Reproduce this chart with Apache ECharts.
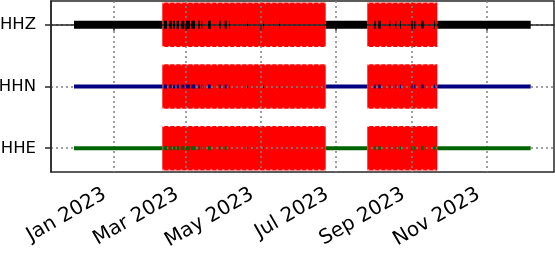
<!DOCTYPE html>
<html>
<head>
<meta charset="utf-8">
<script src="https://cdn.jsdelivr.net/npm/echarts@6/dist/echarts.min.js"></script>
<style>
html,body{margin:0;padding:0;background:#fff;}
#chart{width:555px;height:253px;}
</style>
</head>
<body>
<div id="chart"></div>
<script>
// Channels (top to bottom)
var channels = ['HHZ', 'HHN', 'HHE'];
var channelColors = ['#000000', '#000080', '#006400'];
var channelWidths = [8, 4, 4];

// Data availability segments [start, end]
var segments = [
  ['2022-11-30 00:40', '2023-02-09 20:40'],
  ['2023-02-11 05:45', '2023-02-13 16:20'],
  ['2023-02-15 07:30', '2023-02-17 12:00'],
  ['2023-02-18 13:30', '2023-02-20 04:30'],
  ['2023-02-21 13:40', '2023-02-23 10:50'],
  ['2023-02-25 01:40', '2023-02-27 18:10'],
  ['2023-02-28 21:40', '2023-03-04 09:20'],
  ['2023-03-05 05:00', '2023-03-08 11:00'],
  ['2023-03-11 03:35', '2023-03-12 12:45'],
  ['2023-03-13 14:10', '2023-03-14 09:40'],
  ['2023-03-19 01:00', '2023-03-21 05:30'],
  ['2023-03-27 23:30', '2023-03-29 08:50'],
  ['2023-04-01 14:50', '2023-04-03 06:00'],
  ['2023-04-05 02:50', '2023-04-05 22:20'],
  ['2023-04-19 18:15', '2023-04-20 13:40'],
  ['2023-05-02 18:40', '2023-05-03 14:10'],
  ['2023-05-15 19:00', '2023-05-16 14:35'],
  ['2023-06-22 18:40', '2023-07-26 14:50'],
  ['2023-08-01 07:40', '2023-08-02 11:00'],
  ['2023-08-04 13:40', '2023-08-06 12:30'],
  ['2023-08-13 12:30', '2023-08-14 08:00'],
  ['2023-08-18 09:35', '2023-08-19 05:00'],
  ['2023-08-22 05:20', '2023-08-23 01:00'],
  ['2023-08-31 04:00', '2023-09-01 13:20'],
  ['2023-09-02 20:40', '2023-09-03 16:00'],
  ['2023-09-08 07:30', '2023-09-10 12:00'],
  ['2023-09-18 21:00', '2023-09-19 16:50'],
  ['2023-09-21 13:40', '2023-12-06 13:00']
];

// Gaps [start, end]
var gaps = [
  ['2023-02-09 20:40', '2023-06-22 18:40'],
  ['2023-07-26 14:50', '2023-09-21 13:40']
];

// X tick positions and labels
var tickDates = ['2023-01-01', '2023-03-01', '2023-05-01', '2023-07-01', '2023-09-01', '2023-11-01'];
var tickLabels = ['Jan 2023', 'Mar 2023', 'May 2023', 'Jul 2023', 'Sep 2023', 'Nov 2023'];

var xMin = '2022-11-11 07:40';
var xMax = '2023-12-25 12:00';

function ts(s) {
  var m = s.match(/^(\d+)-(\d+)-(\d+)(?: (\d+):(\d+))?$/);
  return Date.UTC(+m[1], +m[2] - 1, +m[3], m[4] ? +m[4] : 0, m[5] ? +m[5] : 0);
}
var tickTs = tickDates.map(ts);
var labelMap = {};
tickTs.forEach(function (t, i) { labelMap[t] = tickLabels[i]; });

var gapData = [];
channels.forEach(function (c, ci) {
  gaps.forEach(function (g) { gapData.push([ts(g[0]), ts(g[1]), ci]); });
});

var segData = [];
channels.forEach(function (c, ci) {
  segments.forEach(function (s) { segData.push([ts(s[0]), ts(s[1]), ci]); });
});

var HALF = 0.36;

var chart = echarts.init(document.getElementById('chart'), null, {renderer: 'canvas'});
chart.setOption({
  animation: false,
  grid: {left: 51, right: 1, top: 1, bottom: 81, containLabel: false, outerBoundsMode: 'none',
         show: true, borderColor: '#262626', borderWidth: 1.5, backgroundColor: 'transparent'},
  xAxis: {
    type: 'value',
    min: ts(xMin), max: ts(xMax),
    z: 3,
    axisLine: {show: true, lineStyle: {color: '#262626', width: 1.5}},
    axisTick: {show: true, length: 6, lineStyle: {color: '#262626', width: 1.5}, customValues: tickTs},
    axisLabel: {
      customValues: tickTs,
      rotate: 30,
      margin: 16,
      padding: [0, 10, 0, 0],
      fontFamily: 'DejaVu Sans', fontSize: 20, color: '#000',
      formatter: function (v) { return labelMap[v] || ''; }
    },
    splitLine: {show: true, lineStyle: {color: '#808080', width: 1.5, type: [2, 3]}}
  },
  yAxis: {
    type: 'value',
    inverse: true,
    min: -0.385, max: 2.385,
    z: 3,
    axisLine: {show: true, lineStyle: {color: '#262626', width: 1.5}},
    axisTick: {show: true, length: 6, lineStyle: {color: '#262626', width: 1.5}, customValues: [0, 1, 2]},
    axisLabel: {
      customValues: [0, 1, 2],
      margin: 15,
      fontFamily: 'DejaVu Sans', fontSize: 16.5, color: '#000',
      formatter: function (v) { return channels[Math.round(v)]; }
    },
    splitLine: {show: true, lineStyle: {color: '#808080', width: 1.5, type: [2, 3]}}
  },
  series: [
    {
      type: 'custom',
      z: 2,
      data: gapData,
      renderItem: function (params, api) {
        var p1 = api.coord([api.value(0), api.value(2) - HALF]);
        var p2 = api.coord([api.value(1), api.value(2) + HALF]);
        var x = Math.min(p1[0], p2[0]), y = Math.min(p1[1], p2[1]);
        var w = Math.abs(p2[0] - p1[0]), h = Math.abs(p2[1] - p1[1]);
        return {
          type: 'group',
          children: [
            {type: 'rect', shape: {x: x, y: y, width: w, height: h}, style: {fill: '#ff0000'}},
            {type: 'line', shape: {x1: x, y1: y + 0.5, x2: x + w, y2: y + 0.5}, style: {stroke: '#ffffff', lineWidth: 1, lineDash: [2, 4], opacity: 0.8}},
            {type: 'line', shape: {x1: x, y1: y + h - 0.5, x2: x + w, y2: y + h - 0.5}, style: {stroke: '#ffffff', lineWidth: 1, lineDash: [2, 4], opacity: 0.8}}
          ]
        };
      }
    },
    {
      type: 'custom',
      z: 5,
      data: segData,
      renderItem: function (params, api) {
        var ci = api.value(2);
        var p1 = api.coord([api.value(0), ci]);
        var p2 = api.coord([api.value(1), ci]);
        var lw = channelWidths[ci];
        return {
          type: 'rect',
          shape: {x: p1[0], y: p1[1] - lw / 2, width: Math.max(p2[0] - p1[0], 0.8), height: lw},
          style: {fill: channelColors[ci]}
        };
      }
    }
  ]
});
</script>
</body>
</html>
